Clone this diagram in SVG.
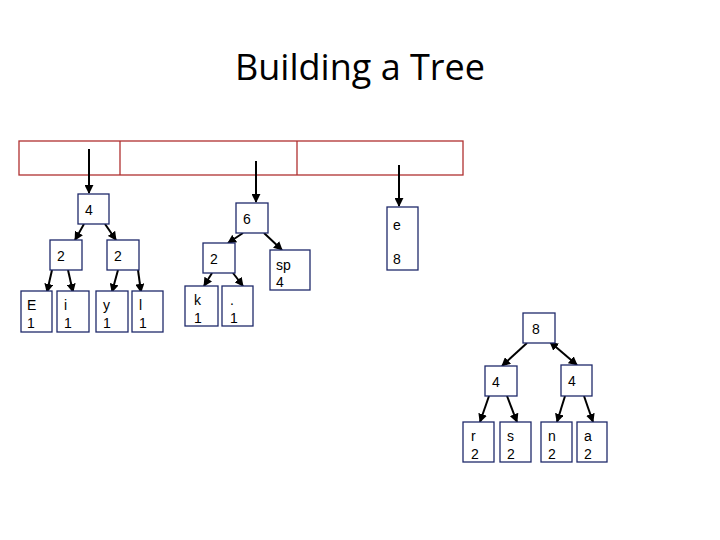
<svg xmlns="http://www.w3.org/2000/svg" width="720" height="540" viewBox="0 0 720 540">
<style>
.n rect{fill:#fff;stroke:#1f2a6b;stroke-width:1.3}
.n text{font-family:"Liberation Sans","Open Sans",sans-serif;font-size:14px;fill:#000}
#connectors line{stroke:#000;stroke-width:2;marker-end:url(#ah)}
</style>
<defs><marker id="ah" viewBox="0 0 10 10" refX="9" refY="5" markerWidth="4.5" markerHeight="4.5" orient="auto-start-reverse"><path d="M0,0L10,5L0,10z" fill="#000"/></marker></defs>
<rect width="720" height="540" fill="#fff"/>
<text x="360" y="80" text-anchor="middle" font-family="'Open Sans','Liberation Sans',sans-serif" font-size="36">Building a Tree</text>
<g id="bar" fill="none" stroke="#b03030" stroke-width="1.3"><rect x="19" y="141" width="444" height="34"/><line x1="120" y1="141" x2="120" y2="175"/><line x1="297" y1="141" x2="297" y2="175"/></g>
<g id="connectors">
<line x1="89" y1="149" x2="89" y2="193"/><line x1="256" y1="161" x2="256" y2="202"/><line x1="399" y1="165" x2="399" y2="206"/>
<line x1="84" y1="224" x2="75" y2="240"/><line x1="105" y1="224" x2="116" y2="240"/>
<line x1="52" y1="270" x2="47" y2="292"/><line x1="68" y1="270" x2="73" y2="292"/>
<line x1="118" y1="270" x2="112" y2="292"/><line x1="138" y1="270" x2="141" y2="292"/>
<line x1="243" y1="233" x2="228" y2="243"/><line x1="264" y1="233" x2="282" y2="250"/>
<line x1="212" y1="273" x2="204" y2="286"/><line x1="233" y1="273" x2="243" y2="286"/>
<line x1="527" y1="343" x2="502" y2="366"/><line x1="550" y1="342" x2="577" y2="365" marker-start="url(#ah)"/>
<line x1="489" y1="396" x2="480" y2="422"/><line x1="507" y1="396" x2="517" y2="422"/>
<line x1="565" y1="396" x2="557" y2="422"/><line x1="584" y1="396" x2="593" y2="422"/>
</g>
<g id="n4" class="n"><rect x="78" y="194" width="31" height="30"/><text x="85" y="215">4</text></g>
<g id="n6" class="n"><rect x="236" y="203" width="32" height="30"/><text x="243" y="224">6</text></g>
<g id="ne" class="n"><rect x="387" y="207" width="31" height="63"/><text x="393" y="230">e</text><text x="393" y="264">8</text></g>
<g id="n2a" class="n"><rect x="50" y="240" width="32" height="30"/><text x="57" y="261">2</text></g>
<g id="n2b" class="n"><rect x="107" y="240" width="32" height="30"/><text x="114" y="261">2</text></g>
<g id="n2c" class="n"><rect x="203" y="243" width="32" height="30"/><text x="210" y="264">2</text></g>
<g id="nsp" class="n"><rect x="270" y="250" width="40" height="40"/><text x="276" y="270">sp</text><text x="276" y="287">4</text></g>
<g id="nE" class="n"><rect x="21" y="291" width="31" height="41"/><text x="27" y="310">E</text><text x="27" y="328">1</text></g>
<g id="ni" class="n"><rect x="57" y="291" width="32" height="41"/><text x="64" y="310">i</text><text x="64" y="328">1</text></g>
<g id="ny" class="n"><rect x="96" y="291" width="32" height="41"/><text x="103" y="310">y</text><text x="103" y="328">1</text></g>
<g id="nl" class="n"><rect x="132" y="291" width="31" height="41"/><text x="139" y="310">l</text><text x="139" y="328">1</text></g>
<g id="nk" class="n"><rect x="185" y="286" width="33" height="40"/><text x="194" y="305">k</text><text x="194" y="323">1</text></g>
<g id="ndot" class="n"><rect x="222" y="286" width="31" height="40"/><text x="230" y="305">.</text><text x="230" y="323">1</text></g>
<g id="n8" class="n"><rect x="523" y="313" width="32" height="30"/><text x="532" y="334">8</text></g>
<g id="n4l" class="n"><rect x="485" y="366" width="32" height="30"/><text x="492" y="387">4</text></g>
<g id="n4r" class="n"><rect x="561" y="365" width="31" height="31"/><text x="568" y="386">4</text></g>
<g id="nr" class="n"><rect x="463" y="422" width="31" height="40"/><text x="471" y="441">r</text><text x="471" y="459">2</text></g>
<g id="ns" class="n"><rect x="500" y="422" width="31" height="40"/><text x="507" y="441">s</text><text x="507" y="459">2</text></g>
<g id="nn" class="n"><rect x="541" y="422" width="31" height="40"/><text x="548" y="441">n</text><text x="548" y="459">2</text></g>
<g id="na" class="n"><rect x="577" y="422" width="30" height="40"/><text x="584" y="441">a</text><text x="584" y="459">2</text></g>
</svg>
